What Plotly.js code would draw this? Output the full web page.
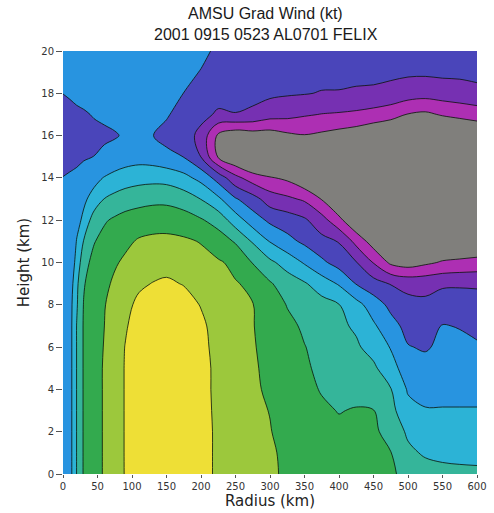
<!DOCTYPE html>
<html>
<head>
<meta charset="utf-8">
<script src="https://cdn.plot.ly/plotly-3.0.1.min.js"></script>
<style>html,body{margin:0;padding:0;background:#fff}#chart{width:494px;height:513px}</style>
</head>
<body>
<div id="chart"></div>
<script>
// Radius (km) of each grid column and height (km) of each grid row
const radiusKm = [0,10,20,30,45,60,75,90,110,130,150,175,200,225,250,275,300,325,350,375,400,425,450,475,500,525,550,575,600];
const heightKm = [0,1,2,3,4,5,6,7,8,9,10,11,12,13,14,15,16,17,18,19,20];

// Gradient wind (kt); one row per height, bottom (0 km) to top (20 km)
const windKt = [
 [-2,1,15.5,26,31,36,40,45.5,50,52,53,52,49,43,39.5,37.5,36,34,31.5,30,28.5,27.5,26.5,25.5,24,20,18,17.5,17],
 [-2,1,15.5,26,31,36,40.5,45.5,50,52,53,52,49,43,39.5,37.5,36,33.5,31,29.5,28,27,26.5,25.2,17.5,13.5,12.5,12,12],
 [-2,1,15.5,26,31,36,40.5,45.5,50,52,53,52,49,43,39,37,35.3,32.5,30,28,26.5,26.5,26,23,13,10,9,8.5,8.5],
 [-2,1,15.5,26,31,36,40.5,45.5,50,52,53,52,49,42.5,38.5,36.5,34.8,31.5,28.5,26.2,24.7,25.5,25.2,18,8,6,6,6,6],
 [-2,1,15.5,26,31,36,40.5,45.5,50,52,53,52,49,42,38,36,34,30.5,27,24.5,23,22.5,21,15.5,4,0,0,0,0],
 [-2,1,15.5,26,31,36,40.5,45.5,50,52,53,52,49,42,38,35.8,33.5,29.5,26,23.5,21.5,19.5,17,8,1,-1.5,-1,-1,-1],
 [-2,1,15.5,26,31,35.5,40.5,45.2,50,52,52.5,51.5,48,41.5,37.5,35.5,33,28.5,25.3,22,19.5,16.5,11,4.5,-4.5,-6,-3,-2.5,-4],
 [-2,1,15.5,26,31,35,40,44,49,51.5,52,51,47,41,37,35.3,32,27.5,23.5,20.5,17,13.5,6.5,-1.5,-8,-10,-4.5,-5.5,-7],
 [-2,1,14,25.5,30.5,34.5,39,42.5,47,50,50.5,49,44.5,40,36.5,35.2,31,24.5,22,18.5,15.3,8.5,0,-7.5,-12,-13,-10,-11,-12],
 [-3,-1,13,24,31.5,33,36.5,40,43.5,45.3,46.5,44.5,42,38.5,35.5,33.5,26,20,16,10,4,-5.5,-11,-15.5,-18,-18,-16.5,-16,-16],
 [-3,-1.5,8,22,27.6,31,34,36.5,39.5,41,41.5,40.5,38,36,33,24.5,17,11,4,-3,-9,-14.5,-25.5,-37,-40,-37,-34,-33,-32],
 [-3.5,-2,5.5,15.5,24.5,28,31,33,36,37,37.3,36.5,34.5,30,24,14,4.5,-2,-7,-12,-15.5,-28,-40,-45,-48,-48,-46,-45,-44],
 [-4,-3,2.5,6.7,20.5,24,26.5,28.5,30,31,31,29.5,26,21,10,0,-7,-10,-13.5,-21,-32,-45,-52,-55,-56,-56,-55,-54,-53],
 [-3.5,-2.5,0,3.5,8,15.3,18,20,21.5,22.5,22.5,20,14.8,7,-4,-11,-20,-23,-26.5,-35.5,-47,-55,-60,-62,-63,-63,-62,-61,-60],
 [-4.8,-4,-3,-1,2.5,5.5,8,10,11.5,12,11.5,8,2,-9,-22,-30,-34,-37,-44,-52,-60,-64,-66,-68,-68,-68,-67,-66,-65],
 [-8,-7.5,-7,-6,-4.9,-3,-1.5,0,1,0,-2.5,-5.2,-15.2,-36,-45,-52,-55,-58,-62,-66,-70,-72,-73,-74,-74,-74,-73,-72,-71],
 [-9,-8.5,-8,-7.5,-7,-6.5,-5.7,-4,-3,-4.8,-8,-10,-18,-37,-42,-40,-40,-37,-35.5,-37,-39,-41,-44,-47,-50,-52,-50,-48,-46],
 [-8,-7.5,-6.5,-5.8,-4.5,-3.5,-2.5,-2,-3,-3,-4,-9,-12,-16.5,-15.3,-17,-21,-22,-24,-25.3,-26,-27,-29,-31,-35.5,-37,-34,-32,-30],
 [-4.9,-4,-3,-2.5,-2,-1.5,-1,0,-1,-1.5,-2,-5.1,-8,-11,-12,-12,-13,-14,-14.5,-15.5,-15.5,-16,-16,-18,-20,-21,-20,-19,-18],
 [-2,-1.5,-1,-0.5,0,0,0.5,1,0.5,0,0,-2,-5.5,-9,-10,-11,-11,-11,-11,-12,-12.5,-13,-13.5,-13,-13.5,-13.5,-13,-13,-12],
 [0,0,0.5,0.5,1,1,1.5,1.5,1.5,1,1,0,-2.5,-7,-9,-10,-10,-10,-10,-10,-11,-11,-12,-12,-12,-12,-12,-11.5,-11]
];

// Contour levels (kt) and the fill colour of each band, lowest band first
const levelStart = -35, levelEnd = 45, levelStep = 10;
const bandColors = ['#807f7c','#ad2fb3','#7630b2','#4a45ba','#2894e0','#2cb3d6','#35b59a','#33aa4e','#9cc83c','#eedf36'];

const radiusTicks = [0,50,100,150,200,250,300,350,400,450,500,550,600];
const heightTicks = [0,2,4,6,8,10,12,14,16,18,20];
const titleLines = ['AMSU Grad Wind (kt)', '2001 0915 0523 AL0701 FELIX'];

const nb = bandColors.length - 1;
const colorscale = bandColors.map((c, i) => [i / nb, c]);

const trace = {
  type: 'contour',
  x: radiusKm,
  y: heightKm,
  z: windKt,
  autocontour: false,
  contours: {start: levelStart, end: levelEnd, size: levelStep, coloring: 'fill', showlines: true},
  colorscale: colorscale,
  showscale: false,
  line: {color: 'rgba(10,20,10,0.8)', width: 1, smoothing: 1},
  hoverinfo: 'x+y+z'
};

const font = 'DejaVu Sans, Liberation Sans, sans-serif';
const titleFont = {family: 'Liberation Sans, Arial, sans-serif', size: 16, color: '#1a1a1a'};
const plotH = 513 - 51 - 39;
const layout = {
  width: 494, height: 513,
  margin: {l: 63, r: 17, t: 51, b: 39},
  paper_bgcolor: '#ffffff', plot_bgcolor: '#ffffff',
  showlegend: false,
  annotations: [
    {text: titleLines[0], xref: 'paper', x: 0.49, yref: 'paper', y: 1 + (51 - 14) / plotH,
     xanchor: 'center', yanchor: 'middle', showarrow: false, font: titleFont},
    {text: titleLines[1], xref: 'paper', x: 0.49, yref: 'paper', y: 1 + (51 - 35) / plotH,
     xanchor: 'center', yanchor: 'middle', showarrow: false, font: titleFont}
  ],
  xaxis: {
    range: [0, 600], tickvals: radiusTicks, ticks: 'outside', ticklen: 3, tickcolor: '#555',
    tickfont: {family: font, size: 10, color: '#333'},
    title: {text: 'Radius (km)', font: {family: font, size: 15, color: '#222'}, standoff: 3},
    showgrid: false, zeroline: false, showline: false, automargin: false
  },
  yaxis: {
    range: [0, 20], tickvals: heightTicks, ticks: 'outside', ticklen: 6, tickcolor: '#555',
    tickfont: {family: font, size: 10, color: '#333'},
    title: {text: 'Height (km)', font: {family: font, size: 15, color: '#222'}, standoff: 8},
    showgrid: false, zeroline: false, showline: false, automargin: false
  }
};

Plotly.newPlot('chart', [trace], layout, {displayModeBar: false, staticPlot: true});
</script>
</body>
</html>
